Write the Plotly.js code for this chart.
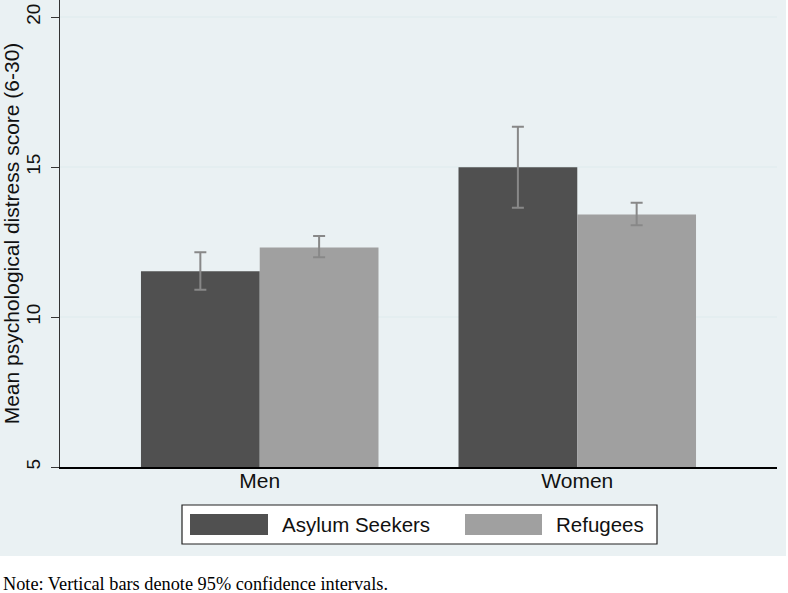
<!DOCTYPE html>
<html><head><meta charset="utf-8">
<script src="https://cdn.plot.ly/plotly-3.0.1.min.js"></script>
<style>html,body{margin:0;padding:0;background:#fff;}#chart{width:788px;height:593px;}</style>
</head><body><div id="chart"></div>
<script>
const categories = [0, 1];
const categoryLabels = ["Men", "Women"];
const asylumMean = [11.53, 14.99];
const asylumLow = [10.91, 13.64];
const asylumHigh = [12.16, 16.34];
const refugeeMean = [12.32, 13.42];
const refugeeLow = [11.99, 13.06];
const refugeeHigh = [12.70, 13.81];
const seriesNames = ["Asylum Seekers", "Refugees"];
const yTicks = [5, 10, 15, 20];

function errs(mean, lo, hi) {
  return {type: 'data', symmetric: false,
    array: mean.map((m, i) => hi[i] - m),
    arrayminus: mean.map((m, i) => m - lo[i]),
    color: '#888888', thickness: 2, width: 6, visible: true};
}
const font = "Arial, 'Liberation Sans', Helvetica, sans-serif";
const traces = [
  {type: 'bar', x: categories, y: asylumMean, name: seriesNames[0],
   marker: {color: '#505050', line: {width: 0}}, error_y: errs(asylumMean, asylumLow, asylumHigh), hoverinfo: 'none'},
  {type: 'bar', x: categories, y: refugeeMean, name: seriesNames[1],
   marker: {color: '#a0a0a0', line: {width: 0}}, error_y: errs(refugeeMean, refugeeLow, refugeeHigh), hoverinfo: 'none'}
];
const layout = {
  width: 788, height: 593,
  margin: {l: 60, r: 11, t: 0, b: 126, pad: 0},
  paper_bgcolor: '#ffffff', plot_bgcolor: '#ffffff',
  showlegend: false,
  barmode: 'group', bargap: 0.252, bargroupgap: 0,
  font: {family: font, color: '#111'},
  xaxis: {range: [-0.629, 1.629], tickvals: categories, ticktext: categoryLabels,
    showgrid: false, zeroline: false, showline: true, linecolor: '#000', linewidth: 1.5,
    ticks: '', tickfont: {size: 21, family: font, color: '#111'}, ticklabelstandoff: -6},
  yaxis: {range: [5, 20.57], tickvals: yTicks, ticktext: yTicks.map(String),
    tickangle: -90, showgrid: true, gridcolor: '#e4eef0', gridwidth: 1.5, zeroline: false,
    showline: true, linecolor: '#333', linewidth: 1.5, ticks: 'outside', ticklen: 8, tickcolor: '#333',
    ticklabeloverflow: 'allow', ticklabelstandoff: 3,
    tickfont: {size: 19, family: font, color: '#111'},
    title: {text: 'Mean psychological distress score (6-30)', font: {size: 21, family: font, color: '#111'}, standoff: 2}},
  shapes: [
    {type: 'rect', xref: 'paper', yref: 'paper', layer: 'below',
     x0: -60/717, x1: 1 + 9/717, y0: -89/467, y1: 1, fillcolor: '#eaf1f3', line: {width: 0}},
    {type: 'rect', xref: 'paper', yref: 'paper',
     x0: (182-60)/717, x1: (657-60)/717, y0: (467-544)/467, y1: (467-505)/467,
     fillcolor: '#ffffff', line: {color: '#222', width: 1.2}},
    {type: 'rect', xref: 'paper', yref: 'paper',
     x0: (190-60)/717, x1: (268-60)/717, y0: (467-535)/467, y1: (467-514)/467,
     fillcolor: '#505050', line: {width: 0}},
    {type: 'rect', xref: 'paper', yref: 'paper',
     x0: (465-60)/717, x1: (542-60)/717, y0: (467-535)/467, y1: (467-514)/467,
     fillcolor: '#a0a0a0', line: {width: 0}}
  ],
  annotations: [
    {xref: 'paper', yref: 'paper', x: (280-60)/717, y: (467-524.5)/467, xanchor: 'left', yanchor: 'middle',
     text: seriesNames[0], showarrow: false, font: {size: 20.5, family: font, color: '#111'}},
    {xref: 'paper', yref: 'paper', x: (554-60)/717, y: (467-524.5)/467, xanchor: 'left', yanchor: 'middle',
     text: seriesNames[1], showarrow: false, font: {size: 20.5, family: font, color: '#111'}},
    {xref: 'paper', yref: 'paper', x: -58/717, y: (467-584)/467, xanchor: 'left', yanchor: 'middle',
     text: 'Note: Vertical bars denote 95% confidence intervals.', showarrow: false, borderpad: 0,
     font: {size: 18.3, family: "'Liberation Serif', 'Times New Roman', serif", color: '#000'}}
  ]
};
Plotly.newPlot('chart', traces, layout, {staticPlot: true, displayModeBar: false});
</script>
</body></html>
